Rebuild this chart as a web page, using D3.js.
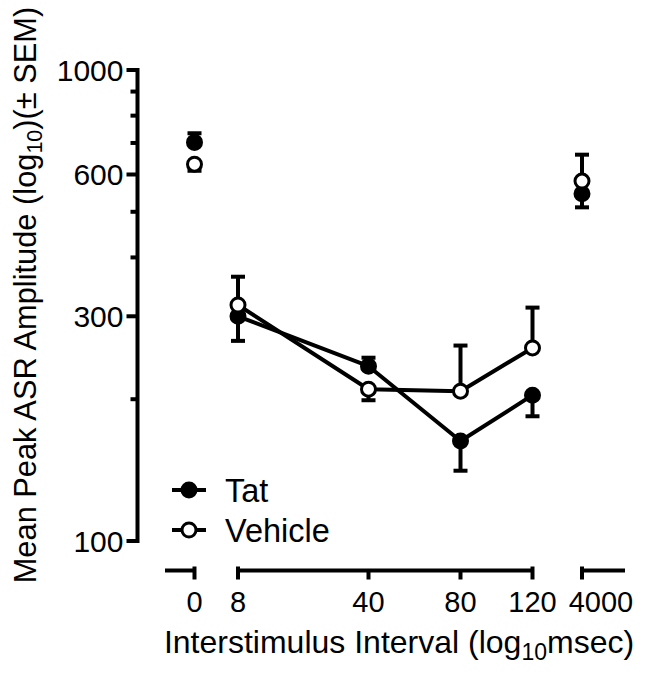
<!DOCTYPE html>
<html>
<head>
<meta charset="utf-8">
<script src="https://cdn.jsdelivr.net/npm/d3@7"></script>
<style>
  html, body { margin: 0; padding: 0; background: #fff; }
  svg { display: block; }
  text { font-family: "Liberation Sans", Arial, Helvetica, sans-serif; fill: #000; }
</style>
</head>
<body>
<svg id="chart" width="648" height="674"></svg>
<script>
// ---- data ----
const categories = [0, 8, 40, 80, 120, 4000];
const tickLabels = ["0", "8", "40", "80", "120", "4000"];
const tatMean = [702, 300, 235, 163, 204, 546];
const tatSEM  = [32, 34, 10, 22, 20, 35];
const vehMean = [631, 317, 210, 208, 257, 581];
const vehSEM  = [20, 47, 11, 52, 56, 80];
const yMajorTicks = [100, 300, 600, 1000];
const yMinorTicks = [200, 400, 500, 700, 800, 900];
const seriesNames = ["Tat", "Vehicle"];

// ---- layout ----
const svg = d3.select("#chart");
const BLACK = "#000";

const y = d3.scaleLog().domain([100, 1000]).range([541, 70]);
// segmented (broken) x axis: piecewise placement of the intervals
const x = d3.scaleLinear()
  .domain(categories)
  .range([194.5, 238, 368.5, 460.5, 532.5, 582]);

const xAxisY = 570.5;
const yAxisX = 137.5;

// ---- y axis ----
const gy = svg.append("g");
gy.append("line")
  .attr("x1", yAxisX).attr("x2", yAxisX)
  .attr("y1", y(1000) - 2).attr("y2", y(100) + 2)
  .attr("stroke", BLACK).attr("stroke-width", 4);
gy.selectAll("line.major").data(yMajorTicks).join("line")
  .attr("class", "major")
  .attr("x1", yAxisX - 11).attr("x2", yAxisX)
  .attr("y1", d => y(d)).attr("y2", d => y(d))
  .attr("stroke", BLACK).attr("stroke-width", 4);
gy.selectAll("line.minor").data(yMinorTicks).join("line")
  .attr("class", "minor")
  .attr("x1", yAxisX - 7).attr("x2", yAxisX)
  .attr("y1", d => y(d)).attr("y2", d => y(d))
  .attr("stroke", BLACK).attr("stroke-width", 4);
gy.selectAll("text").data(yMajorTicks).join("text")
  .attr("x", yAxisX - 14)
  .attr("y", d => y(d))
  .attr("dy", "0.36em")
  .attr("text-anchor", "end")
  .attr("font-size", 30)
  .text(d => d);

// ---- x axis (three segments) ----
const gx = svg.append("g");
const segments = [
  {from: 165, to: x(0)},
  {from: x(8), to: x(120)},
  {from: x(4000), to: 625}
];
gx.selectAll("line.seg").data(segments).join("line")
  .attr("class", "seg")
  .attr("x1", d => d.from).attr("x2", d => d.to)
  .attr("y1", xAxisY).attr("y2", xAxisY)
  .attr("stroke", BLACK).attr("stroke-width", 4);
gx.selectAll("line.tick").data(categories).join("line")
  .attr("class", "tick")
  .attr("x1", d => x(d)).attr("x2", d => x(d))
  .attr("y1", (d, i) => (i === 0 || i === 1 || i === 4 || i === 5) ? xAxisY - 4 : xAxisY)
  .attr("y2", xAxisY + 9)
  .attr("stroke", BLACK).attr("stroke-width", 4);
gx.selectAll("text").data(categories).join("text")
  .attr("x", d => x(d))
  .attr("dx", d => d === 4000 ? 19 : 0)
  .attr("y", 611.5)
  .attr("text-anchor", "middle")
  .attr("font-size", 29)
  .text((d, i) => tickLabels[i]);

// ---- axis titles ----
const yTitle = svg.append("text")
  .attr("transform", "translate(36,295) rotate(-90)")
  .attr("text-anchor", "middle")
  .attr("font-size", 30.8);
yTitle.append("tspan").text("Mean Peak ASR Amplitude (log");
yTitle.append("tspan").attr("font-size", 21.5).attr("dy", 6).text("10");
yTitle.append("tspan").attr("dy", -6).text(")(\u00B1 SEM)");

const xTitle = svg.append("text")
  .attr("x", 399).attr("y", 653)
  .attr("text-anchor", "middle")
  .attr("font-size", 32);
xTitle.append("tspan").text("Interstimulus Interval (log");
xTitle.append("tspan").attr("font-size", 23).attr("dy", 7).text("10");
xTitle.append("tspan").attr("dy", -7).text("msec)");

// ---- series ----
const connected = [1, 2, 3, 4]; // 8..120 msec are joined
const series = [
  {name: seriesNames[0], mean: tatMean, sem: tatSEM, other: vehMean, fill: BLACK},
  {name: seriesNames[1], mean: vehMean, sem: vehSEM, other: tatMean, fill: "#fff"}
];

series.forEach(s => {
  const g = svg.append("g");
  g.append("path")
    .attr("d", d3.line().x(i => x(categories[i])).y(i => y(s.mean[i]))(connected))
    .attr("fill", "none").attr("stroke", BLACK).attr("stroke-width", 4)
    .attr("stroke-linejoin", "round");
  // error bars point away from the other group
  const bars = categories.map((c, i) => {
    const up = s.mean[i] >= s.other[i];
    return {i, end: up ? s.mean[i] + s.sem[i] : s.mean[i] - s.sem[i]};
  });
  g.selectAll("line.eb").data(bars).join("line")
    .attr("class", "eb")
    .attr("x1", d => x(categories[d.i])).attr("x2", d => x(categories[d.i]))
    .attr("y1", d => y(s.mean[d.i])).attr("y2", d => y(d.end))
    .attr("stroke", BLACK).attr("stroke-width", 4);
  g.selectAll("line.cap").data(bars).join("line")
    .attr("class", "cap")
    .attr("x1", d => x(categories[d.i]) - 7).attr("x2", d => x(categories[d.i]) + 7)
    .attr("y1", d => y(d.end)).attr("y2", d => y(d.end))
    .attr("stroke", BLACK).attr("stroke-width", 4);
  g.selectAll("circle").data(categories).join("circle")
    .attr("cx", d => x(d))
    .attr("cy", (d, i) => y(s.mean[i]))
    .attr("r", 7)
    .attr("fill", s.fill).attr("stroke", BLACK).attr("stroke-width", 3);
});

// ---- legend ----
const legend = svg.append("g");
const legendRows = [490, 530];
series.forEach((s, k) => {
  const ly = legendRows[k];
  legend.append("line")
    .attr("x1", 172).attr("x2", 206).attr("y1", ly).attr("y2", ly)
    .attr("stroke", BLACK).attr("stroke-width", 4);
  legend.append("circle")
    .attr("cx", 189).attr("cy", ly).attr("r", 7)
    .attr("fill", s.fill).attr("stroke", BLACK).attr("stroke-width", 3);
  legend.append("text")
    .attr("x", 225).attr("y", ly + 12)
    .attr("font-size", 32.5)
    .text(s.name);
});
</script>
</body>
</html>
